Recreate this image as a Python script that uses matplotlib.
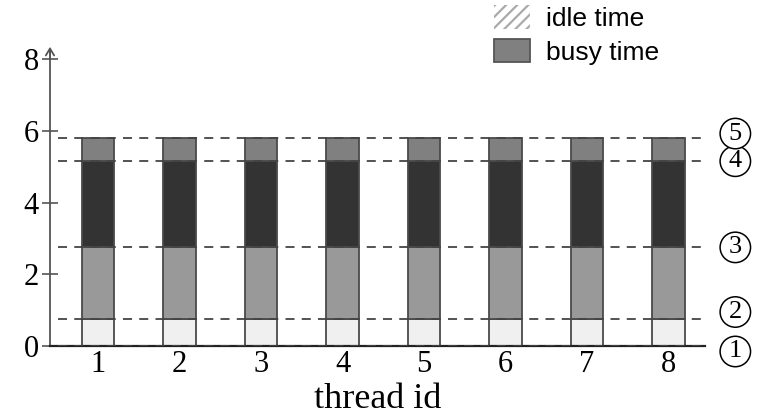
import matplotlib
matplotlib.use("Agg")
import matplotlib.pyplot as plt
from matplotlib.patches import Patch

# data
threads  = [1, 2, 3, 4, 5, 6, 7, 8]
seg_idle1 = [0.75] * 8     # phase 1 (light)
seg_busy1 = [2.0] * 8      # phase 2 (gray)
seg_busy2 = [2.4] * 8      # phase 3 (dark)
seg_busy3 = [0.65] * 8     # phase 4 (mid gray)
marks      = [0.0, 0.75, 2.75, 5.15, 5.8]
mark_names = ["1", "2", "3", "4", "5"]
yticks     = [0, 2, 4, 6, 8]

C_EDGE = "#4a4a4a"
SERIF = ["Liberation Serif", "DejaVu Serif"]
SANS = ["Liberation Sans", "DejaVu Sans"]

plt.rcParams["hatch.color"] = "#8a8a8a"
plt.rcParams["hatch.linewidth"] = 1.6

fig = plt.figure(figsize=(7.69, 4.16), dpi=100)
ax = fig.add_axes([0.065, 0.168, 0.852, 0.712])

w = 0.4
b = [0] * 8
for seg, col in [(seg_idle1, "#f0f0f0"), (seg_busy1, "#999999"),
                 (seg_busy2, "#333333"), (seg_busy3, "#808080")]:
    ax.bar(threads, seg, width=w, bottom=b, color=col, edgecolor=C_EDGE, linewidth=1.3, zorder=2)
    b = [x + y for x, y in zip(b, seg)]

ax.set_xlim(0.41, 8.45)
ax.set_ylim(0, 8.25)

for m in marks:
    ax.axhline(m, xmin=0.012, xmax=1.0, color="#444444", linestyle=(0, (5, 4)), linewidth=1.3, zorder=3)

# circled phase labels to the right
offs = [-0.15, 0.2, 0, 0, 0.12]
for m, name, o in zip(marks, mark_names, offs):
    ax.text(8.82, m + o, name, ha="center", va="center", fontsize=19, family=SERIF,
            clip_on=False,
            bbox=dict(boxstyle="circle,pad=0.16", facecolor="white", edgecolor="black", linewidth=1.1))

for sp in ["top", "right"]:
    ax.spines[sp].set_visible(False)
ax.spines["left"].set_color("#555555")
ax.spines["left"].set_linewidth(1.3)
ax.spines["bottom"].set_color("#222222")
ax.spines["bottom"].set_linewidth(1.6)

ax.set_yticks(yticks)
ax.set_yticklabels([str(t) for t in yticks], family=SERIF, fontsize=22)
ax.set_xticks(threads)
ax.set_xticklabels([str(t) for t in threads], family=SERIF, fontsize=22)
ax.tick_params(axis="y", direction="inout", length=12, width=1.2, color="#555555", pad=2)
ax.tick_params(axis="x", length=0, pad=3)
ax.set_xlabel("thread id", family=SERIF, fontsize=26, labelpad=3)

ax.annotate("", xy=(0, 1.02), xytext=(0, 0.96), xycoords="axes fraction",
            arrowprops=dict(arrowstyle="->,head_length=0.5,head_width=0.3", color="#555555", lw=1.3),
            annotation_clip=False)

handles = [Patch(facecolor="white", edgecolor="#aaaaaa", hatch="///", linewidth=0),
           Patch(facecolor="#808080", edgecolor="#555555", linewidth=1.3)]
fig.legend(handles, ["idle time", "busy time"], loc="upper left", bbox_to_anchor=(0.612, 1.045),
           frameon=False, prop={"family": SANS, "size": 19}, handlelength=1.35, handleheight=1.0,
           handletextpad=0.6, labelspacing=0.3)

fig.savefig("out.png", dpi=100)
